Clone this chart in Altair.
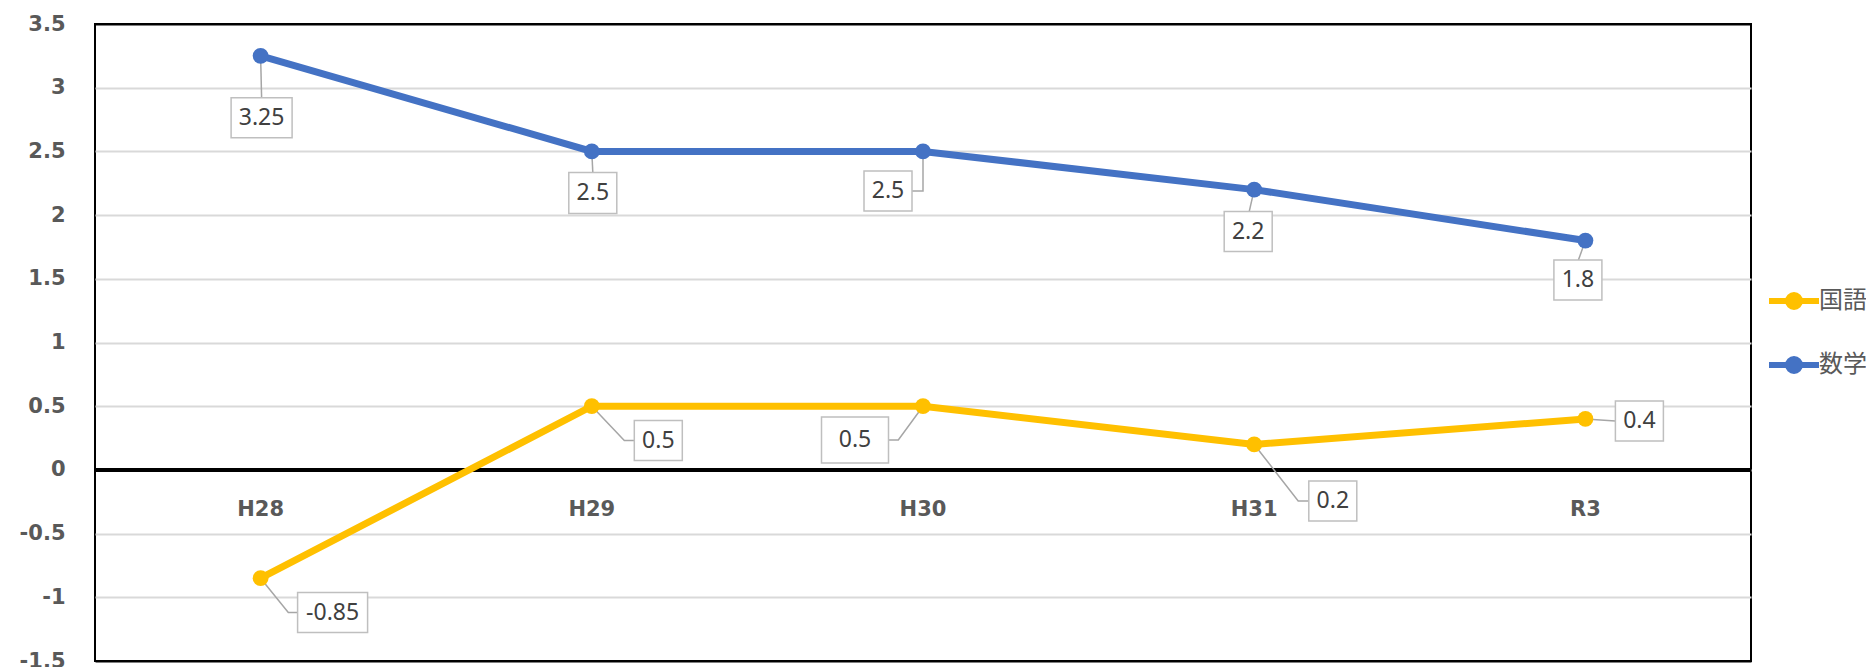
import altair as alt
import pandas as pd

# ---------------- data ----------------
years = ["H28", "H29", "H30", "H31", "R3"]
subjects = ["国語", "数学"]
kokugo = [-0.85, 0.5, 0.5, 0.2, 0.4]
sugaku = [3.25, 2.5, 2.5, 2.2, 1.8]
colors = ["#FFC000", "#4472C4"]
y_ticks = [-1.5, -1, -0.5, 0, 0.5, 1, 1.5, 2, 2.5, 3, 3.5]

# ---------------- callout layout (pixel offsets from each point) ----------------
callout = {
    "国語": {
        "dx": [72, 66.5, -68, 78.6, 54],
        "dy": [34.4, 34.4, 33.7, 56.5, 2],
        "w": [70, 48, 67, 48, 48],
        "h": [40, 40, 46, 40, 40],
        "leader": [[(27.7, 34.4), (37, 34.4)], [(32.5, 34.4), (42.5, 34.4)],
                   [(-24.7, 33.7), (-34.5, 33.7)], [(44, 56.5), (54.6, 56.5)], [(30, 2)]],
    },
    "数学": {
        "dx": [1, 1, -35, -6, -7.5],
        "dy": [62, 41.5, 39.5, 42, 39.5],
        "w": [61, 48, 48, 48, 48],
        "h": [40, 41, 40, 40, 40],
        "leader": [[(1, 42)], [(1, 21)], [(0, 39.5), (-11, 39.5)], [(-5, 22)], [(-7, 19.5)]],
    },
}

W, H = 1656, 637
FONT_NUM = "Noto Sans"
FONT_AX = "DejaVu Sans"
FONT_JP = "Noto Sans CJK JP"
GREY = "#595959"

rows = []
for subj, vals in zip(subjects, [kokugo, sugaku]):
    c = callout[subj]
    for i, (yr, v) in enumerate(zip(years, vals)):
        dx, dy, w, h = c["dx"][i], c["dy"][i], c["w"][i], c["h"][i]
        box = f"M{dx - w / 2},{dy - h / 2}H{dx + w / 2}V{dy + h / 2}H{dx - w / 2}Z"
        lead = "M0,0" + "".join(f"L{px},{py}" for px, py in c["leader"][i])
        rows.append(dict(year=yr, subject=subj, value=v, label=str(v),
                         dx=dx, dy=dy, box=box, lead=lead, idx=len(rows)))
df = pd.DataFrame(rows)
cat_df = pd.DataFrame({"year": years, "zero": [0] * len(years)})

x_enc = alt.X("year:N", sort=years, scale=alt.Scale(type="point", padding=0.5), axis=None)
y_scale = alt.Scale(domain=[-1.5, 3.5], nice=False, zero=False)
y_enc = alt.Y("value:Q", scale=y_scale,
              axis=alt.Axis(values=y_ticks, labelExpr="datum.value", title=None,
                            domain=False, ticks=False, grid=True,
                            gridColor={"condition": {"test": "datum.value == 3.5 || datum.value == -1.5",
                                                     "value": "black"},
                                       "value": "#d9d9d9"},
                            gridWidth=2, labelFont=FONT_AX, labelFontSize=21,
                            labelFontWeight="bold", labelColor=GREY, labelPadding=30))

legend_path = ("M-21,0H29M10,0A6,6 0 1,1 -2,0A6,6 0 1,1 10,0"
               "M6,0A2,2 0 1,1 2,0A2,2 0 1,1 6,0")
color_enc = alt.Color("subject:N", sort=subjects,
                      scale=alt.Scale(domain=subjects, range=colors),
                      legend=alt.Legend(title=None, orient="none", legendX=W + 2, legendY=265,
                                        symbolType=legend_path, symbolSize=4,
                                        symbolStrokeWidth=6, symbolOffset=25, labelOffset=17,
                                        labelFont=FONT_JP, labelFontSize=24,
                                        labelColor=GREY, rowPadding=26, padding=0))

base = alt.Chart(df)

zero_rule = alt.Chart(cat_df).mark_rule(color="black", strokeWidth=4).encode(
    y=alt.Y("zero:Q", scale=y_scale))

leaders = base.mark_point(filled=False, stroke="#a6a6a6", strokeWidth=1.5, size=4,
                          opacity=1).encode(x=x_enc, y=y_enc,
                                            shape=alt.Shape("lead:N", scale=None, legend=None))

lines = base.mark_line(strokeWidth=7).encode(x=x_enc, y=y_enc, color=color_enc,
                                             detail="subject:N")

points = base.mark_point(filled=True, size=250, opacity=1).encode(
    x=x_enc, y=y_enc,
    fill=alt.Fill("subject:N", scale=alt.Scale(domain=subjects, range=colors), legend=None))

boxes = base.mark_point(filled=True, fill="white", stroke="#bfbfbf", strokeWidth=1.5,
                        size=4, opacity=1).encode(
    x=x_enc, y=y_enc, shape=alt.Shape("box:N", scale=None, legend=None))

texts = []
for r in rows:
    texts.append(
        alt.Chart(df).transform_filter(alt.datum.idx == r["idx"]).mark_text(
            dx=r["dx"], dy=r["dy"], fontSize=23, font=FONT_NUM, color="#404040"
        ).encode(x=x_enc, y=y_enc, text="label:N")
    )

cat_labels = alt.Chart(cat_df).mark_text(dy=40, fontSize=21, fontWeight="bold",
                                         font=FONT_AX, color=GREY).encode(
    x=x_enc, y=alt.Y("zero:Q", scale=y_scale), text="year:N")

chart = alt.layer(zero_rule, leaders, lines, points, boxes, *texts, cat_labels).properties(
    width=W, height=H,
    background="white",
    autosize=alt.AutoSizeParams(type="none"),
    padding={"left": 87, "top": 16, "right": 115, "bottom": 6},
).configure_view(stroke="black", strokeWidth=2)

chart.save("out.html", embed_options={"renderer": "svg", "actions": False})
